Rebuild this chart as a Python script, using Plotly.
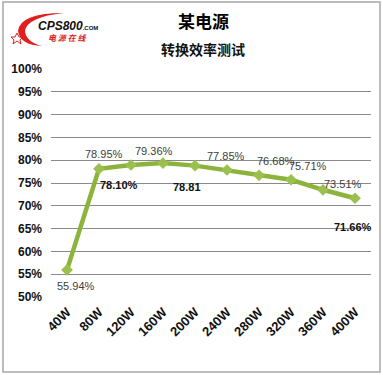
import plotly.graph_objects as go

categories = ["40W", "80W", "120W", "160W", "200W", "240W", "280W", "320W", "360W", "400W"]
efficiency = [55.94, 78.10, 78.95, 79.36, 78.81, 77.85, 76.68, 75.71, 73.51, 71.66]
label_texts = ["55.94%", "78.10%", "78.95%", "79.36%", "78.81", "77.85%", "76.68%", "75.71%", "73.51%", "71.66%"]
label_bold = [False, True, False, False, True, False, False, False, False, True]
y_ticks = [50, 55, 60, 65, 70, 75, 80, 85, 90, 95, 100]
y_tick_labels = [f"{t}%" for t in y_ticks]

# label offsets (pixels) relative to the point
label_shift = [(9, -16), (20, -16), (-27, 11), (-9, 12), (-8, -21),
               (-1, 14), (17, 14), (17, 14), (20, 6), (-2, -29)]

W, H = 383, 375
L, R, T, B = 51, 12, 69, 78
pw, ph = W - L - R, H - T - B


def px(x):
    return (x - L) / pw


def py(y):
    return (H - B - y) / ph


green = "#8CB43C"
fig = go.Figure()
fig.add_trace(go.Scatter(
    x=categories, y=efficiency, mode="lines+markers",
    line=dict(color=green, width=4.5),
    marker=dict(symbol="diamond", size=9, color="#9BC04E", line=dict(width=0)),
    hoverinfo="x+y", showlegend=False,
))

annotations = []
for c, v, t, b, (dx, dy) in zip(categories, efficiency, label_texts, label_bold, label_shift):
    annotations.append(dict(
        x=c, y=v, xref="x", yref="y", text=f"<b>{t}</b>" if b else t,
        showarrow=False, xshift=dx, yshift=dy, xanchor="center", yanchor="middle",
        font=dict(family="Liberation Sans, Arial", size=11,
                  color="#111111" if b else "#404040"),
    ))

annotations += [
    dict(x=px(203), y=py(20), xref="paper", yref="paper", text="<b>某电源</b>",
         xanchor="center", yanchor="middle",
         showarrow=False, font=dict(family="Noto Sans CJK SC", size=17, color="#000000")),
    dict(x=px(203), y=py(49), xref="paper", yref="paper", text="<b>转换效率测试</b>",
         xanchor="center", yanchor="middle",
         showarrow=False, font=dict(family="Noto Sans CJK SC", size=14, color="#111111")),
    dict(x=px(36), y=py(26), xref="paper", yref="paper", xanchor="left", yanchor="middle",
         text="<b><i>CPS800</i></b><span style='font-size:6px'><b>.COM</b></span>",
         showarrow=False, font=dict(family="Liberation Sans, Arial", size=12, color="#111111")),
    dict(x=px(46), y=py(37), xref="paper", yref="paper", xanchor="left", yanchor="middle",
         text="<b><i>电 源 在 线</i></b>",
         showarrow=False, font=dict(family="Noto Sans CJK SC", size=8, color="#E02020")),
]


def pt(x, y):
    return f"{px(x):.4f},{py(y):.4f}"


# logo swoosh (decoration)
swoosh = ("M " + pt(64, 13) + " Q " + pt(20, 13) + " " + pt(18, 31) +
          " Q " + pt(20, 45) + " " + pt(42, 46) + " Q " + pt(26, 42) + " " + pt(25, 31) +
          " Q " + pt(27, 17) + " " + pt(64, 13) + " Z")
star = ("M " + pt(17, 33) + " L " + pt(19, 37) + " L " + pt(23, 37) + " L " + pt(20, 40) +
        " L " + pt(21, 44) + " L " + pt(17, 41) + " L " + pt(13, 44) + " L " + pt(14, 40) +
        " L " + pt(11, 37) + " L " + pt(15, 37) + " Z")

shapes = [
    dict(type="rect", xref="paper", yref="paper", x0=px(3), x1=px(380), y0=py(2), y1=py(372),
         line=dict(color="#A8A8A8", width=1.5), fillcolor="rgba(0,0,0,0)", layer="below"),
    dict(type="path", xref="paper", yref="paper", path=swoosh, fillcolor="#E02020",
         line=dict(width=0)),
    dict(type="path", xref="paper", yref="paper", path=star, fillcolor="rgba(0,0,0,0)",
         line=dict(color="#E02020", width=1)),
]

fig.update_layout(
    width=W, height=H, margin=dict(l=L, r=R, t=T, b=B, autoexpand=False),
    paper_bgcolor="white", plot_bgcolor="white",
    annotations=annotations, shapes=shapes,
    xaxis=dict(type="category", showgrid=False, showline=False, ticks="", automargin=False,
               tickangle=-45, tickfont=dict(family="Liberation Sans, Arial", size=13, color="#111111"),
               range=[-0.5, 9.5], tickvals=categories, ticklabelstandoff=4,
               ticktext=[f"<b>{c}</b>" for c in categories]),
    yaxis=dict(range=[50, 100], tickvals=y_ticks, ticktext=[f"<b>{s}</b>" for s in y_tick_labels],
               showgrid=True, gridcolor="#8A8A8A", gridwidth=1, zeroline=False, showline=False,
               automargin=False,
               tickfont=dict(family="Liberation Sans, Arial", size=12, color="#111111"),
               ticks="", ticklabelstandoff=8),
)
fig.write_html("out.html", config={"displayModeBar": False},
               post_script="document.body.style.margin='0';document.body.style.overflow='hidden';")
